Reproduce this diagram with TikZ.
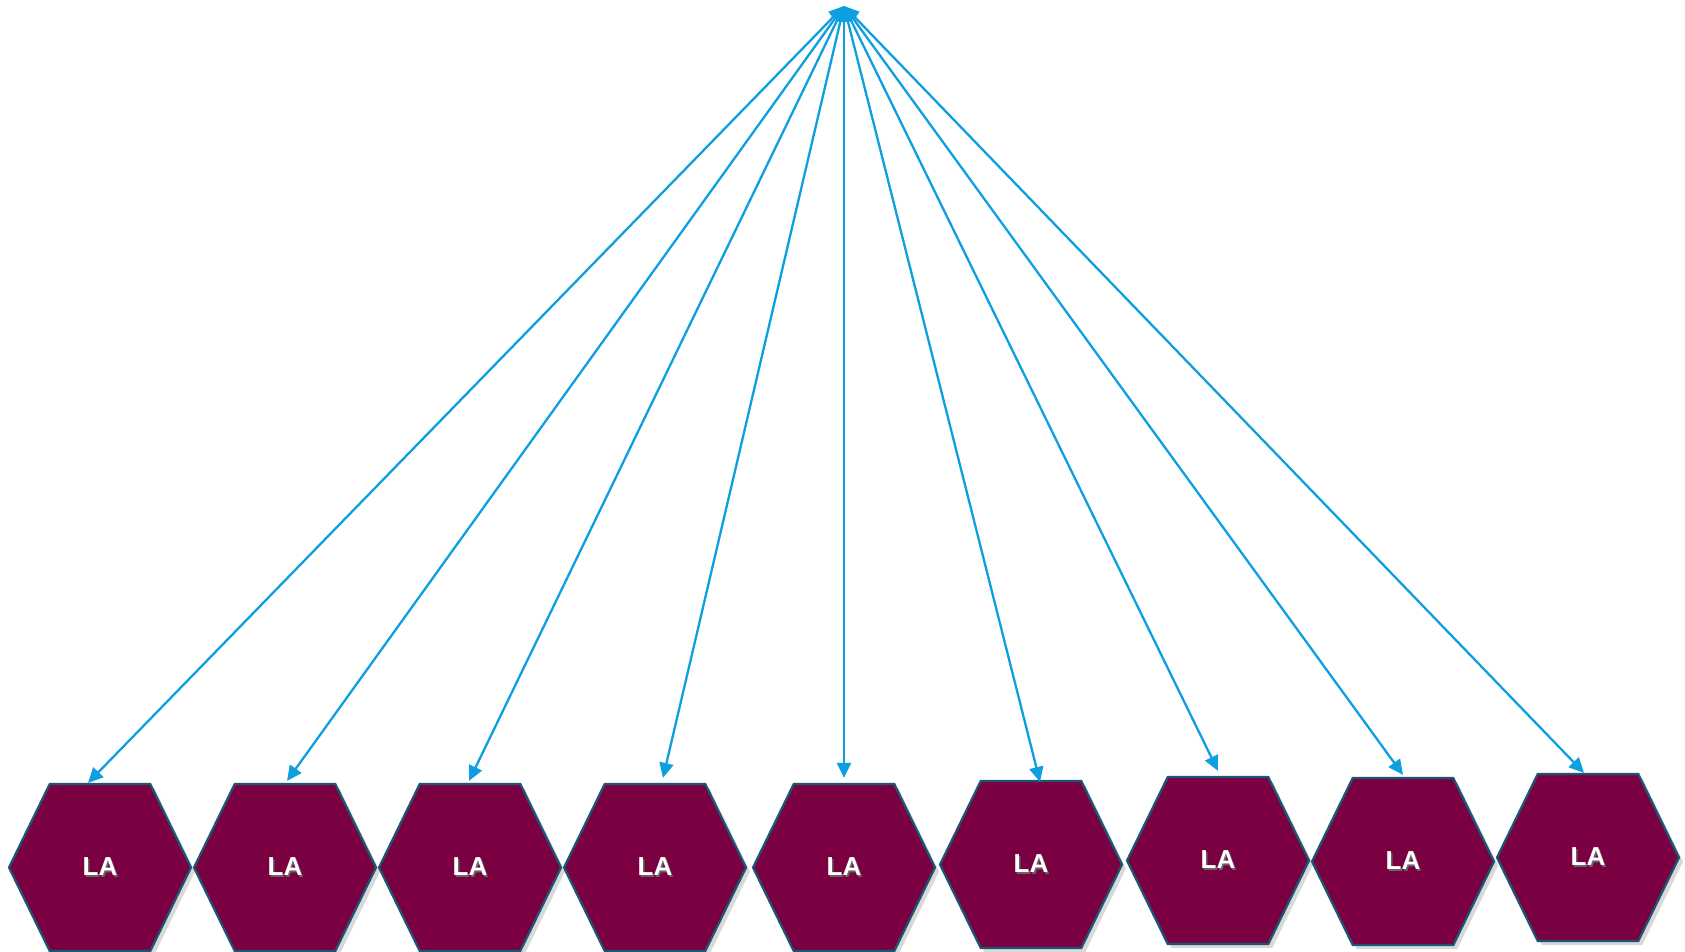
\documentclass[tikz,border=0pt]{standalone}
\usepackage{fontspec}
\newfontfamily\lafont{Liberation Sans}
\usetikzlibrary{shapes.symbols, shadows, arrows.meta}
\definecolor{hexfill}{HTML}{7A0041}
\definecolor{hexline}{HTML}{1B5673}
\definecolor{arrowblue}{HTML}{0E9FE0}
\newcommand{\latext}{\makebox[0pt][l]{\hspace{1.5pt}\raisebox{-1.5pt}{\color{black!60}LA}}LA}
\tikzset{hexa/.style={signal, signal to=west and east, signal pointer angle=128, draw=hexline, line width=2.2pt, fill=hexfill, minimum width=182pt, minimum height=167pt, inner sep=0pt, text=white, font=\lafont\bfseries\fontsize{26}{30}\selectfont, drop shadow={opacity=0.3, shadow xshift=4pt, shadow yshift=-4pt}},
link/.style={draw=arrowblue, line width=2.3pt, {Triangle[length=15pt,width=14pt]}-{Triangle[length=15pt,width=14pt]}}}

\begin{document}
\begin{tikzpicture}[x=1pt, y=-1pt]
	\useasboundingbox (0,0) rectangle (1685,952);
	%Spitze
	\coordinate (apex) at (844,6);
	%Sechsecke
	\foreach \n/\cx/\ty in {1/100/784, 2/285/784, 3/470/784, 4/655/784, 5/844/784, 6/1031/781, 7/1218/777, 8/1403/778, 9/1588/774} {
		\node[hexa] (h\n) at (\cx,\ty+83.5) {\latext};
	}
	%Pfeile
	\foreach \n/\dx/\dy in {1/-12/0, 2/2/2, 3/-1/2, 4/8/5, 5/0/5, 6/9/-2, 7/0/5, 8/0/2, 9/-4/0} {
		\draw[link] (apex) -- ([xshift=\dx pt, yshift=\dy pt]h\n.north);
	}
\end{tikzpicture}
\end{document}
